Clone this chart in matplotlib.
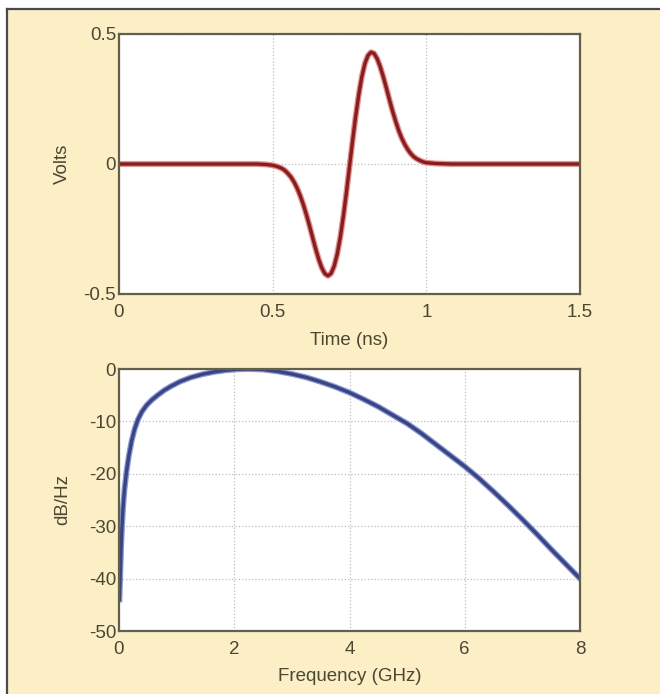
import numpy as np
import matplotlib.pyplot as plt
from matplotlib.patches import Rectangle
from matplotlib.lines import Line2D

# pulse (time in ns, amplitude in volts)
pulse_t = [0.0, 0.40, 0.45, 0.48, 0.50, 0.51, 0.52, 0.53, 0.54, 0.55, 0.56,
           0.57, 0.58, 0.59, 0.60, 0.61, 0.62, 0.63, 0.64, 0.65, 0.66, 0.67,
           0.68, 0.69, 0.70, 0.71, 0.72, 0.73, 0.74, 0.75, 0.76, 0.77, 0.78,
           0.79, 0.80, 0.81, 0.82, 0.83, 0.84, 0.85, 0.86, 0.87, 0.88, 0.89,
           0.90, 0.91, 0.92, 0.93, 0.94, 0.95, 0.96, 0.97, 0.98, 0.99, 1.00,
           1.03, 1.08, 1.50]
pulse_v = [0.0, 0.0, 0.0, -0.002, -0.005, -0.008, -0.012, -0.017, -0.025,
           -0.037, -0.051, -0.070, -0.094, -0.123, -0.157, -0.196, -0.238,
           -0.283, -0.327, -0.367, -0.400, -0.422, -0.430, -0.421, -0.393,
           -0.347, -0.282, -0.201, -0.109, -0.010, 0.089, 0.183, 0.266, 0.335,
           0.386, 0.417, 0.430, 0.425, 0.405, 0.374, 0.335, 0.292, 0.247,
           0.204, 0.165, 0.129, 0.099, 0.075, 0.055, 0.039, 0.027, 0.019,
           0.013, 0.008, 0.005, 0.002, 0.0, 0.0]

# spectrum (GHz, dB/Hz)
spec_f = [0.008, 0.012, 0.02, 0.035, 0.05, 0.07, 0.095, 0.13, 0.17, 0.22,
          0.27, 0.33, 0.40, 0.48, 0.57, 0.67, 0.78, 0.90, 1.06, 1.25, 1.45,
          1.65, 1.85, 2.05, 2.25, 2.50, 2.75, 3.00, 3.25, 3.50, 3.75, 4.00,
          4.25, 4.50, 4.75, 5.00, 5.25, 5.50, 5.75, 6.00, 6.25, 6.50, 6.75,
          7.00, 7.25, 7.50, 7.75, 8.00]
spec_db = [-44.0, -42.5, -40.0, -34.5, -30.5, -26.5, -23.0, -19.6, -16.6,
           -13.7, -11.5, -9.6, -8.1, -6.9, -5.9, -5.0, -4.1, -3.3, -2.4, -1.6,
           -1.0, -0.55, -0.25, -0.06, 0.0, -0.1, -0.45, -0.95, -1.6, -2.45,
           -3.4, -4.5, -5.8, -7.2, -8.8, -10.4, -12.3, -14.4, -16.5, -18.6,
           -20.9, -23.4, -26.0, -28.7, -31.5, -34.4, -37.2, -40.0]

t_ticks = [0, 0.5, 1, 1.5]
t_labels = ['0', '0.5', '1', '1.5']
v_ticks = [-0.5, 0, 0.5]
v_labels = ['-0.5', '0', '0.5']
f_ticks = [0, 2, 4, 6, 8]
db_ticks = [-50, -40, -30, -20, -10, 0]

plt.rcParams['font.family'] = ['Liberation Sans', 'DejaVu Sans']
plt.rcParams['axes.unicode_minus'] = False
txt = '#4a4735'
spine_c = '#625f4d'
beige = '#fcefc6'
fs = 13.5

fig = plt.figure(figsize=(6.6, 6.94), dpi=100, facecolor='white')

# beige panel with a dark edge on the left and top
x0 = 7 / 660
y1 = 1 - 9 / 694
fig.patches.append(Rectangle((x0, 0), 1 - x0, y1, transform=fig.transFigure,
                             facecolor=beige, edgecolor='none', zorder=-10))
fig.lines.append(Line2D([x0, x0], [0, y1], transform=fig.transFigure,
                        color='#4a4a4a', lw=1.6, zorder=-5))
fig.lines.append(Line2D([x0, 1], [y1, y1], transform=fig.transFigure,
                        color='#4a4a4a', lw=1.6, zorder=-5))

ax1 = fig.add_axes([119 / 660, 1 - 294 / 694, 461 / 660, 260 / 694])
ax2 = fig.add_axes([119 / 660, 1 - 631 / 694, 461 / 660, 262 / 694])


def style(ax):
    ax.set_facecolor('white')
    for s in ax.spines.values():
        s.set_color(spine_c)
        s.set_linewidth(1.6)
    ax.tick_params(axis='both', length=0, labelcolor=txt, labelsize=fs)
    ax.tick_params(axis='x', pad=7)
    ax.tick_params(axis='y', pad=2)
    ax.grid(True, linestyle=':', color='#bdbdbd', linewidth=0.9)
    ax.set_axisbelow(True)


style(ax1)
ax1.plot(pulse_t, pulse_v, color='#e08a8a', lw=4.2, solid_capstyle='round')
ax1.plot(pulse_t, pulse_v, color='#8e1a1a', lw=2.4, solid_capstyle='round')
ax1.set_xlim(0, 1.5)
ax1.set_ylim(-0.5, 0.5)
ax1.set_xticks(t_ticks)
ax1.set_xticklabels(t_labels)
ax1.set_yticks(v_ticks)
ax1.set_yticklabels(v_labels)
ax1.set_xlabel('Time (ns)', color=txt, fontsize=fs)
ax1.set_ylabel('Volts', color=txt, fontsize=fs)
ax1.xaxis.set_label_coords(0.5, -0.145)
ax1.yaxis.set_label_coords(-0.104, 0.5)

style(ax2)
ax2.plot(spec_f, spec_db, color='#8a96cc', lw=4.2)
ax2.plot(spec_f, spec_db, color='#36448e', lw=2.4)
ax2.set_xlim(0, 8)
ax2.set_ylim(-50, 0)
ax2.set_xticks(f_ticks)
ax2.set_yticks(db_ticks)
ax2.set_xlabel('Frequency (GHz)', color=txt, fontsize=fs)
ax2.set_ylabel('dB/Hz', color=txt, fontsize=fs)
ax2.xaxis.set_label_coords(0.5, -0.14)
ax2.yaxis.set_label_coords(-0.104, 0.5)

fig.savefig('out.png', dpi=100, facecolor=fig.get_facecolor())
